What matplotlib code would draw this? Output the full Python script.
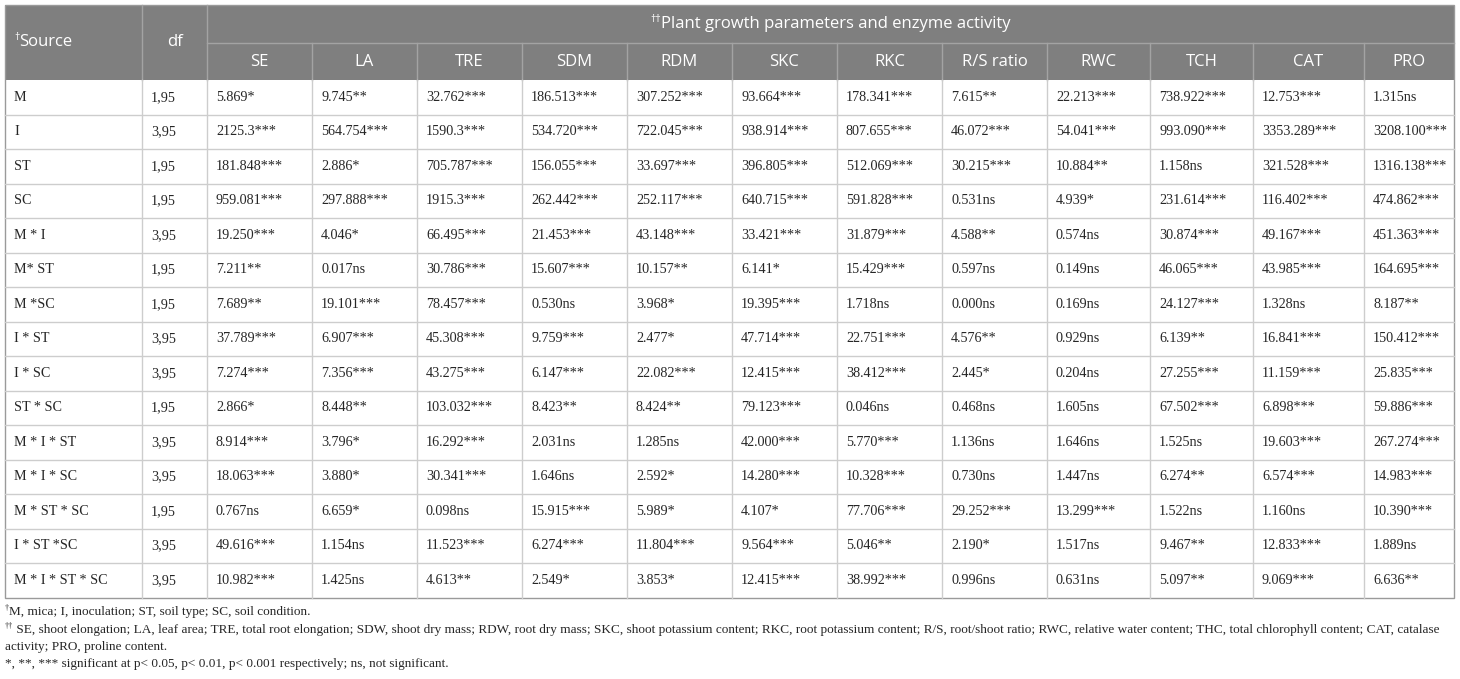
import matplotlib
matplotlib.use("Agg")
import matplotlib.pyplot as plt
from matplotlib.patches import Rectangle

# ---------------- data ----------------
sources = ["M", "I", "ST", "SC", "M * I", "M* ST", "M *SC", "I * ST", "I * SC",
           "ST * SC", "M * I * ST", "M * I * SC", "M * ST * SC", "I * ST *SC",
           "M * I * ST * SC"]
df_vals = ["1,95", "3,95", "1,95", "1,95", "3,95", "1,95", "1,95", "3,95", "3,95",
           "1,95", "3,95", "3,95", "1,95", "3,95", "3,95"]
param_headers = ["SE", "LA", "TRE", "SDM", "RDM", "SKC", "RKC", "R/S ratio",
                 "RWC", "TCH", "CAT", "PRO"]

SE = ["5.869*", "2125.3***", "181.848***", "959.081***", "19.250***", "7.211**",
      "7.689**", "37.789***", "7.274***", "2.866*", "8.914***", "18.063***",
      "0.767ns", "49.616***", "10.982***"]
LA = ["9.745**", "564.754***", "2.886*", "297.888***", "4.046*", "0.017ns",
      "19.101***", "6.907***", "7.356***", "8.448**", "3.796*", "3.880*",
      "6.659*", "1.154ns", "1.425ns"]
TRE = ["32.762***", "1590.3***", "705.787***", "1915.3***", "66.495***",
       "30.786***", "78.457***", "45.308***", "43.275***", "103.032***",
       "16.292***", "30.341***", "0.098ns", "11.523***", "4.613**"]
SDM = ["186.513***", "534.720***", "156.055***", "262.442***", "21.453***",
       "15.607***", "0.530ns", "9.759***", "6.147***", "8.423**", "2.031ns",
       "1.646ns", "15.915***", "6.274***", "2.549*"]
RDM = ["307.252***", "722.045***", "33.697***", "252.117***", "43.148***",
       "10.157**", "3.968*", "2.477*", "22.082***", "8.424**", "1.285ns",
       "2.592*", "5.989*", "11.804***", "3.853*"]
SKC = ["93.664***", "938.914***", "396.805***", "640.715***", "33.421***",
       "6.141*", "19.395***", "47.714***", "12.415***", "79.123***",
       "42.000***", "14.280***", "4.107*", "9.564***", "12.415***"]
RKC = ["178.341***", "807.655***", "512.069***", "591.828***", "31.879***",
       "15.429***", "1.718ns", "22.751***", "38.412***", "0.046ns",
       "5.770***", "10.328***", "77.706***", "5.046**", "38.992***"]
RS = ["7.615**", "46.072***", "30.215***", "0.531ns", "4.588**", "0.597ns",
      "0.000ns", "4.576**", "2.445*", "0.468ns", "1.136ns", "0.730ns",
      "29.252***", "2.190*", "0.996ns"]
RWC = ["22.213***", "54.041***", "10.884**", "4.939*", "0.574ns", "0.149ns",
       "0.169ns", "0.929ns", "0.204ns", "1.605ns", "1.646ns", "1.447ns",
       "13.299***", "1.517ns", "0.631ns"]
TCH = ["738.922***", "993.090***", "1.158ns", "231.614***", "30.874***",
       "46.065***", "24.127***", "6.139**", "27.255***", "67.502***",
       "1.525ns", "6.274**", "1.522ns", "9.467**", "5.097**"]
CAT = ["12.753***", "3353.289***", "321.528***", "116.402***", "49.167***",
       "43.985***", "1.328ns", "16.841***", "11.159***", "6.898***",
       "19.603***", "6.574***", "1.160ns", "12.833***", "9.069***"]
PRO = ["1.315ns", "3208.100***", "1316.138***", "474.862***", "451.363***",
       "164.695***", "8.187**", "150.412***", "25.835***", "59.886***",
       "267.274***", "14.983***", "10.390***", "1.889ns", "6.636**"]

footnote1 = "M, mica; I, inoculation; ST, soil type; SC, soil condition."
footnote2a = (" SE, shoot elongation; LA, leaf area; TRE, total root elongation; SDW, shoot dry mass; "
              "RDW, root dry mass; SKC, shoot potassium content; RKC, root potassium content; "
              "R/S, root/shoot ratio; RWC, relative water content; THC, total chlorophyll content; CAT, catalase")
footnote2b = "activity; PRO, proline content."
footnote3 = "*, **, *** significant at p< 0.05, p< 0.01, p< 0.001 respectively; ns, not significant."

# ---------------- layout ----------------
W, H = 1460, 679
fig = plt.figure(figsize=(W / 100, H / 100), dpi=100)
ax = fig.add_axes([0, 0, 1, 1])
ax.set_xlim(0, W)
ax.set_ylim(H, 0)
ax.axis("off")

columns = [sources, df_vals, SE, LA, TRE, SDM, RDM, SKC, RKC, RS, RWC, TCH, CAT, PRO]
xb = [5, 142, 207, 312, 417, 522, 627, 732, 837, 942, 1047, 1150, 1253, 1364, 1454]
y_top, y_mid, y_hdr = 5, 43, 80
row_h = 34.5
n_rows = len(sources)
y_bot = y_hdr + n_rows * row_h

HDR_BG = "#7f7f7f"
HDR_LINE = "#a3a3a3"
BODY_LINE = "#cdcdcd"
OUTER = "#9a9a9a"
TXT = "#262626"
SANS = "Open Sans"
SERIF = "Liberation Serif"
hdr_fs = 12
body_fs = 10.2

# header background
ax.add_patch(Rectangle((xb[0], y_top), xb[-1] - xb[0], y_hdr - y_top,
                       facecolor=HDR_BG, edgecolor="none"))
# header lines
ax.plot([xb[2], xb[-1]], [y_mid, y_mid], color=HDR_LINE, lw=1)
for x in xb[1:3]:
    ax.plot([x, x], [y_top, y_hdr], color=HDR_LINE, lw=1)
for x in xb[3:-1]:
    ax.plot([x, x], [y_mid, y_hdr], color=HDR_LINE, lw=1)
# body lines
for i in range(1, n_rows):
    y = y_hdr + i * row_h
    ax.plot([xb[0], xb[-1]], [y, y], color=BODY_LINE, lw=1)
for x in xb[1:-1]:
    ax.plot([x, x], [y_hdr, y_bot], color=BODY_LINE, lw=1)
# outer border
ax.add_patch(Rectangle((xb[0], y_top), xb[-1] - xb[0], y_bot - y_top,
                       facecolor="none", edgecolor=OUTER, lw=1))

fig.canvas.draw()
renderer = fig.canvas.get_renderer()


def text_width(t):
    bb = t.get_window_extent(renderer=renderer)
    return bb.width


def sup_text(x, y, sup, main, fs, family, color, ha="left", sup_rise=5):
    """Draw superscript prefix + main text; x is left edge or centre."""
    s = ax.text(0, 0, sup, fontsize=fs * 0.62, family=family, color=color,
                va="center", ha="left")
    m = ax.text(0, 0, main, fontsize=fs, family=family, color=color,
                va="center", ha="left")
    ws, wm = text_width(s), text_width(m)
    x0 = x - (ws + wm) / 2 if ha == "center" else x
    s.set_position((x0, y - sup_rise))
    m.set_position((x0 + ws, y))


# header texts
sup_text(xb[0] + 9, (y_top + y_hdr) / 2, "\u2020", "Source", hdr_fs, SANS, "white")
ax.text((xb[1] + xb[2]) / 2, (y_top + y_hdr) / 2, "df", fontsize=hdr_fs,
        family=SANS, color="white", ha="center", va="center")
sup_text((xb[2] + xb[-1]) / 2, (y_top + y_mid) / 2, "\u2020\u2020",
         "Plant growth parameters and enzyme activity", hdr_fs, SANS, "white",
         ha="center")
for j, h in enumerate(param_headers):
    ax.text((xb[j + 2] + xb[j + 3]) / 2, (y_mid + y_hdr) / 2, h, fontsize=hdr_fs,
            family=SANS, color="white", ha="center", va="center")

# body texts
for j, col in enumerate(columns):
    for i, val in enumerate(col):
        ax.text(xb[j] + 9, y_hdr + (i + 0.5) * row_h, val, fontsize=body_fs,
                family=SERIF, color=TXT, ha="left", va="center")

# footnotes
fn_fs = 9.55
sup_text(xb[0], 612, "\u2020", footnote1, fn_fs, SERIF, TXT, sup_rise=4)
sup_text(xb[0], 630, "\u2020\u2020", footnote2a, fn_fs, SERIF, TXT, sup_rise=4)
ax.text(xb[0], 647, footnote2b, fontsize=fn_fs, family=SERIF, color=TXT,
        ha="left", va="center")
ax.text(xb[0], 664, footnote3, fontsize=fn_fs, family=SERIF, color=TXT,
        ha="left", va="center")

fig.savefig("out.png", dpi=100)
